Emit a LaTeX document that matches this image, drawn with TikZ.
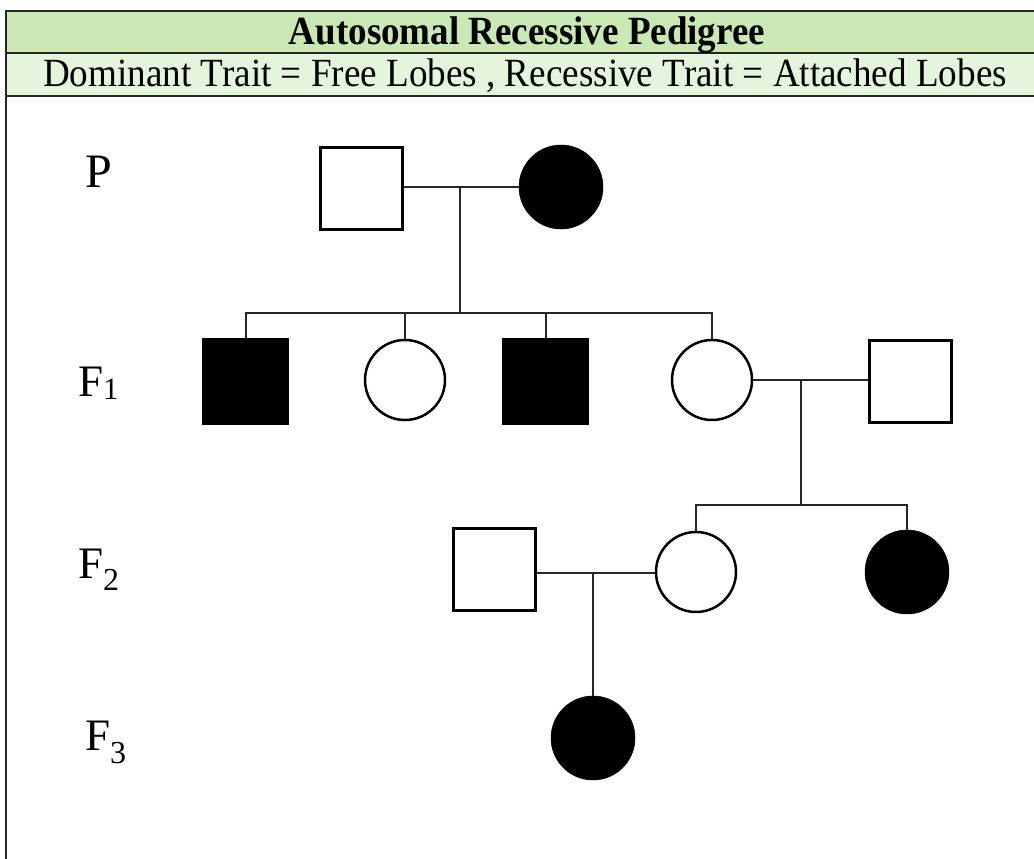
\documentclass[tikz,border=0pt]{standalone}
\usepackage{fontspec}
\setmainfont{Liberation Serif}
\definecolor{headA}{HTML}{C9E8B6}
\definecolor{headB}{HTML}{E5F4DD}
\newcommand{\fsz}[1]{\fontsize{#1}{#1}\selectfont}
\begin{document}
\begin{tikzpicture}[x=1pt,y=-1pt,
  male/.style={draw=black,line width=3pt,fill=white,minimum size=82pt,inner sep=0pt,rectangle},
  maleA/.style={draw=black,line width=0.5pt,fill=black,minimum size=86pt,inner sep=0pt,rectangle},
  female/.style={draw=black,line width=2.5pt,fill=white,minimum size=80pt,inner sep=0pt,circle},
  femaleA/.style={draw=black,line width=0.5pt,fill=black,minimum size=84pt,inner sep=0pt,circle},
  link/.style={draw=black!85,line width=2pt},
  gen/.style={inner sep=0pt,anchor=base west}]
\useasboundingbox (0,0) rectangle (1034,859);
\fill[white] (0,0) rectangle (1034,859);

% header table
\fill[headA] (6,11) rectangle (1040,53);
\fill[headB] (6,53) rectangle (1040,96);
\draw[line width=2pt,black!85] (1040,11) -- (6,11) -- (6,862);
\draw[line width=2pt,black!85] (6,53) -- (1040,53);
\draw[line width=2pt,black!85] (6,96) -- (1040,96);
\node[inner sep=0pt,anchor=base] (title) at (527,45)
  {\scalebox{0.925}[1]{\fsz{40}\bfseries Autosomal Recessive Pedigree}};
\node[inner sep=0pt,anchor=base] (traits) at (525,87)
  {\scalebox{0.928}[1]{\fsz{40}Dominant Trait = Free Lobes , Recessive Trait = Attached Lobes}};

% generation labels
\node[gen] (gP) at (85,187) {\fsz{48}P};
\node[gen] (g1) at (78,396) {\fsz{45}F\raisebox{-3pt}{\fsz{31}1}};
\node[gen] (g2) at (78,578) {\fsz{45}F\raisebox{-12pt}{\fsz{32}2}};
\node[gen] (g3) at (85,750) {\fsz{45}F\raisebox{-13pt}{\fsz{32}3}};

% P generation
\node[male] (pm) at (361,188) {};
\node[femaleA] (pf) at (561,187) {};
% F1 generation
\node[maleA] (a1) at (245.5,381) {};
\node[female] (a2) at (405,380) {};
\node[maleA] (a3) at (545.5,381) {};
\node[female] (a4) at (712,380) {};
\node[male] (a5) at (910,381) {};
% F2 generation
\node[male] (b0) at (494,569) {};
\node[female] (b1) at (696,572) {};
\node[femaleA] (b2) at (907,572) {};
% F3 generation
\node[femaleA] (c1) at (593,738) {};

% P mating and offspring
\coordinate (mP) at (460,187);
\coordinate (sP) at (460,313);
\draw[link] (pm.east |- mP) -- (pf.west);
\draw[link] (mP) -- (sP);
\draw[link] (a1.north) |- (sP) -| (a4.north);
\draw[link] (a2.north) -- (a2.north |- sP);
\draw[link] (a3.north) -- (a3.north |- sP);

% F1 mating and offspring
\coordinate (m1) at (801,380);
\coordinate (s1) at (801,505);
\draw[link] (a4.east) -- (a5.west |- a4.east);
\draw[link] (m1) -- (s1);
\draw[link] (b1.north) |- (s1) -| (b2.north);

% F2 mating and offspring
\coordinate (m2) at (593,573);
\draw[link] (b0.east |- m2) -- (b1.west |- m2);
\draw[link] (m2) -- (c1.north);
\end{tikzpicture}
\end{document}
